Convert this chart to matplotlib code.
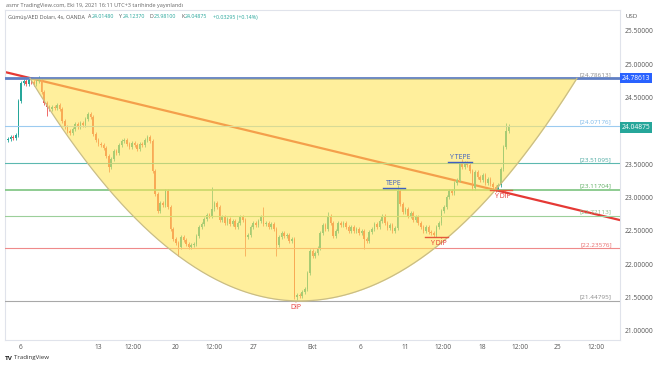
import numpy as np
import matplotlib.pyplot as plt

plt.rcParams['font.family'] = ['Open Sans', 'DejaVu Sans']

# 4h candles, bar index 0 = Sep 6 00:00
first_open = 23.86
closes = [
    23.88, 23.90, 23.89, 23.93, 24.45, 24.72, 24.74, 24.70, 24.76, 24.73,
    24.70, 24.74, 24.76, 24.58, 24.42, 24.36, 24.32, 24.36, 24.34, 24.38,
    24.33, 24.14, 24.05, 24.00, 23.96, 24.02, 24.10, 24.06, 24.12, 24.08,
    24.18, 24.25, 24.20, 23.95, 23.86, 23.80, 23.78, 23.74, 23.62, 23.45,
    23.58, 23.70, 23.66, 23.78, 23.84, 23.86, 23.80, 23.76, 23.82, 23.78,
    23.72, 23.80, 23.78, 23.86, 23.90, 23.84, 23.40, 23.05, 22.80, 22.92,
    22.88, 23.10, 22.85, 22.52, 22.38, 22.32, 22.26, 22.40, 22.36, 22.30,
    22.26, 22.28, 22.30, 22.42, 22.55, 22.60, 22.68, 22.74, 22.72, 22.82,
    22.92, 22.86, 22.66, 22.70, 22.62, 22.68, 22.60, 22.64, 22.56, 22.62,
    22.70, 22.66, 22.40, 22.44, 22.56, 22.62, 22.58, 22.64, 22.70, 22.60,
    22.62, 22.56, 22.60, 22.52, 22.28, 22.40, 22.46, 22.42, 22.44, 22.34,
    22.38, 21.50, 21.54, 21.52, 21.58, 21.62, 21.86, 22.20, 22.12, 22.16,
    22.24, 22.46, 22.58, 22.52, 22.72, 22.62, 22.42, 22.50, 22.62, 22.58,
    22.62, 22.55, 22.50, 22.56, 22.50, 22.52, 22.46, 22.50, 22.38, 22.34,
    22.48, 22.52, 22.60, 22.56, 22.64, 22.72, 22.62, 22.54, 22.58, 22.50,
    22.54, 23.10, 22.90, 22.78, 22.82, 22.72, 22.76, 22.66, 22.70, 22.62,
    22.56, 22.50, 22.56, 22.48, 22.46, 22.44, 22.56, 22.62, 22.80, 22.86,
    23.00, 23.10, 23.06, 23.22, 23.26, 23.50, 23.46, 23.52, 23.48, 23.40,
    23.14, 23.38, 23.30, 23.26, 23.34, 23.22, 23.28, 23.20, 23.16, 23.12,
    23.18, 23.42, 23.76, 24.00, 24.04875,
]
first_bar = -5
# notable wicks (bar index -> price)
wick_highs = {7: 24.82, 74: 23.15, 94: 22.85, 119: 22.78, 146: 23.18,
              171: 23.58, 188: 24.12, 189: 24.10}
wick_lows = {10: 24.22, 34: 23.38, 61: 22.12, 87: 22.12, 99: 22.12,
             107: 21.46, 133: 22.22, 160: 22.40, 184: 23.08}

levels = [24.78613, 24.07176, 23.51095, 23.11704, 22.72113, 22.23576, 21.44795]
level_colors = ['#5f7fc4', '#9ccbf0', '#5cb8b0', '#7cc47f', '#9ccf9a', '#ef8a8a', '#a8a8a8']
label_colors = ['#8a8a8a', '#7ab8ea', '#4aa8a0', '#5fae62', '#8cbf8a', '#e86a6a', '#8a8a8a']
level_widths = [2.0, 0.8, 0.8, 1.2, 0.8, 0.8, 0.8]
last_price = 24.04875

# cup drawing anchors (bar index, price)
arc_left = (3.5, 24.78613)
arc_bottom = (108, 21.44795)
arc_right = (215.5, 24.78613)
trend_start = (-6.2, 24.88)
trend_end = (232.2, 22.66)

xtick_pos = [0, 30, 43.5, 60, 75, 90, 113, 131.5, 149, 163.5, 179, 193.5, 208, 223]
xtick_labels = ['6', '13', '12:00', '20', '12:00', '27', 'Ekt', '6', '11',
                '12:00', '18', '12:00', '25', '12:00']
# 24.00000 is hidden behind the last-price tag
ytick_vals = [21.0, 21.5, 22.0, 22.5, 23.0, 23.5, 24.5, 25.0, 25.5]

y0, y1 = 20.862, 25.81
fig = plt.figure(figsize=(6.54, 3.66), dpi=100)
ax = fig.add_axes([5 / 654, 26 / 366, 615 / 654, 330 / 366])
ax.set_xlim(-6.2, 232.2)
ax.set_ylim(y0, y1)

# trend line (drawn under the fill, so it turns orange inside)
ax.plot([trend_start[0], trend_end[0]], [trend_start[1], trend_end[1]],
        color='#e53935', lw=1.6, zorder=2)

# candles
n = len(closes)
idx = np.arange(first_bar, first_bar + n)
opens = [first_open] + closes[:-1]
for i, o, c in zip(idx, opens, closes):
    col = '#26a69a' if c >= o else '#ef5350'
    hi = wick_highs.get(i, max(o, c) + 0.03)
    lo = wick_lows.get(i, min(o, c) - 0.03)
    ax.vlines(i, lo, hi, color=col, lw=0.6, zorder=3)
    ax.bar(i, max(abs(c - o), 0.01), bottom=min(o, c), width=0.62,
           color=col, lw=0, zorder=3)

# horizontal levels
for lv, lc, tc, lw in zip(levels, level_colors, label_colors, level_widths):
    ax.axhline(lv, color=lc, lw=lw, zorder=4)
    ax.text(229, lv + 0.02, '[%.5f]' % lv, color=tc,
            fontsize=4.6, ha='right', va='bottom', zorder=6)

# cup fill: parabola through the three anchors
xa, ya = arc_bottom
k = (arc_left[1] - ya) / (arc_left[0] - xa) ** 2
k_r = (arc_right[1] - ya) / (arc_right[0] - xa) ** 2
xs = np.linspace(arc_left[0], arc_right[0], 300)
curve = np.where(xs < xa, ya + k * (xs - xa) ** 2, ya + k_r * (xs - xa) ** 2)
ax.fill_between(xs, curve, arc_left[1], color='#ffe55a', alpha=0.6, lw=0, zorder=5)
ax.plot(xs, curve, color='#c9bd86', lw=0.9, zorder=5)

# pattern marks
ax.plot([140.5, 149], [23.14, 23.14], color='#3f5fc0', lw=1.0, zorder=6)
ax.text(144.5, 23.16, 'TEPE', color='#3f5fc0', fontsize=5, ha='center', va='bottom', zorder=6)
ax.plot([165.5, 175], [23.53, 23.53], color='#3f5fc0', lw=1.0, zorder=6)
ax.text(170, 23.55, 'Y TEPE', color='#3f5fc0', fontsize=5, ha='center', va='bottom', zorder=6)
ax.plot([156.5, 165.5], [22.40, 22.40], color='#e55a3a', lw=1.0, zorder=6)
ax.text(162, 22.36, 'Y DİP', color='#e53935', fontsize=5, ha='center', va='top', zorder=6)
ax.plot([182, 190.5], [23.11, 23.11], color='#e55a3a', lw=1.0, zorder=6)
ax.text(186.5, 23.06, 'Y DİP', color='#e53935', fontsize=5, ha='center', va='top', zorder=6)
ax.text(106.5, 21.40, 'DİP', color='#e53935', fontsize=5, ha='center', va='top', zorder=6)

# axes styling
for s in ax.spines.values():
    s.set_color('#e0e3eb')
    s.set_linewidth(0.8)
ax.yaxis.tick_right()
ax.set_yticks(ytick_vals)
ax.set_yticklabels(['%.5f' % v for v in ytick_vals])
ax.set_xticks(xtick_pos)
ax.set_xticklabels(xtick_labels)
ax.tick_params(axis='both', length=0, labelsize=4.8, colors='#555555')
ax.tick_params(axis='y', pad=3)
ax.tick_params(axis='x', pad=3)

# price tags on the axis
ax.text(1.003, (levels[0] - y0) / (y1 - y0), '%.5f' % levels[0],
        transform=ax.transAxes, fontsize=4.8, color='white', va='center', ha='left',
        bbox=dict(boxstyle='square,pad=0.25', fc='#2962ff', ec='none'), zorder=7)
ax.text(1.003, (last_price - y0) / (y1 - y0), '%.5f' % last_price,
        transform=ax.transAxes, fontsize=4.8, color='white', va='center', ha='left',
        bbox=dict(boxstyle='square,pad=0.25', fc='#26a69a', ec='none'), zorder=7)

# header texts
fig.text(6 / 654, 1 - 6 / 366, 'asmr TradingView.com, Eki 19, 2021 16:11 UTC+3 tarihinde yayınlandı',
         fontsize=4.0, color='#666666', va='center')
fig.text(8 / 654, 1 - 17 / 366, 'Gümüş/AED Doları, 4s, OANDA', fontsize=3.9,
         color='#555555', va='center')
hdr = [('A', '24.01480'), ('Y', '24.12370'), ('D', '23.98100'), ('K', '24.04875')]
xp = 88
for lab, val in hdr:
    fig.text(xp / 654, 1 - 17 / 366, lab, fontsize=3.8, color='#555555', va='center')
    fig.text((xp + 4) / 654, 1 - 17 / 366, val, fontsize=3.8, color='#26a69a', va='center')
    xp += 31
fig.text((xp + 1) / 654, 1 - 17 / 366, '+0.03295 (+0.14%)', fontsize=3.8, color='#26a69a', va='center')
fig.text(1 - 22 / 654, 1 - 17 / 366, 'USD', fontsize=4.4, color='#555555', va='center', ha='center')
fig.text(5 / 654, 1 - 358 / 366, 'TV', fontsize=4.6, color='#222222', va='center',
         fontweight='bold')
fig.text(14 / 654, 1 - 358 / 366, 'TradingView', fontsize=4.4, color='#333333', va='center')

fig.savefig('out.png', dpi=100)
